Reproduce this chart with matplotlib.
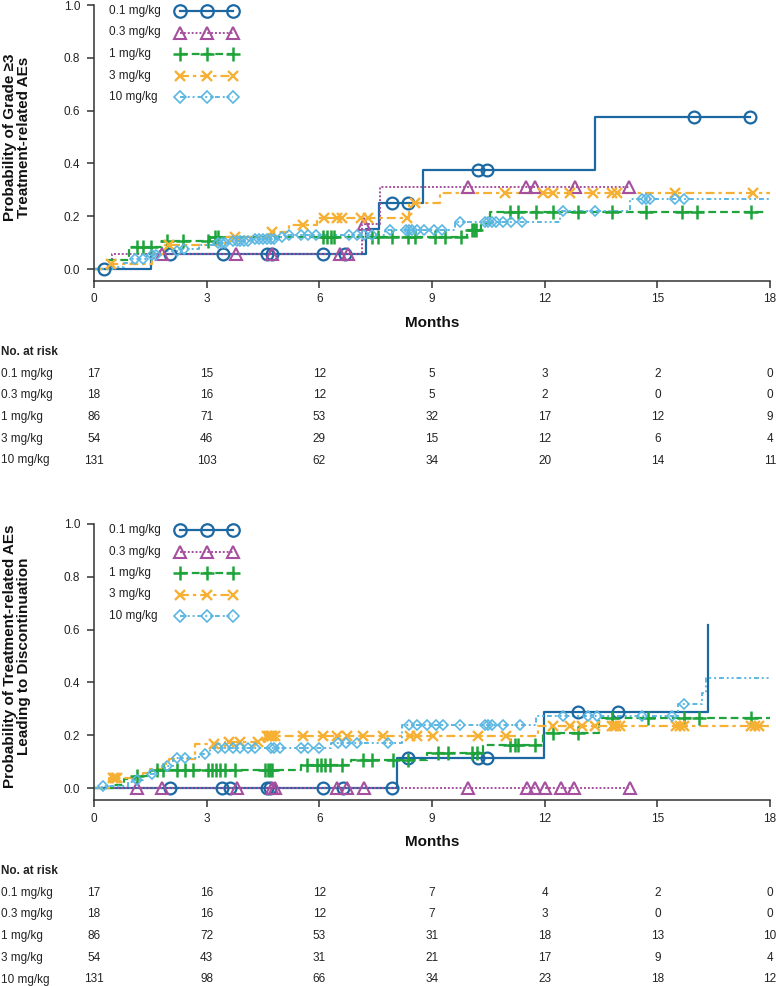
import numpy as np
import matplotlib
matplotlib.use('Agg')
import matplotlib.pyplot as plt
from matplotlib.transforms import blended_transform_factory

plt.rcParams['font.family'] = ['Liberation Sans', 'DejaVu Sans']

W, H = 776, 986

doses = ['0.1 mg/kg', '0.3 mg/kg', '1 mg/kg', '3 mg/kg', '10 mg/kg']
months = [0, 3, 6, 9, 12, 15, 18]

# --- Grade >=3 treatment-related AEs (event times, cumulative prob, censor times) ---
g3_t_01 = [1.52, 7.24, 7.6, 8.76, 13.34]
g3_p_01 = [0.059, 0.15, 0.25, 0.375, 0.576]
g3_c_01 = [0.27, 2.02, 3.43, 4.6, 4.73, 6.1, 6.68, 7.93, 8.35, 10.23, 10.46, 15.97, 17.47]

g3_t_03 = [0.48, 7.14, 7.62]
g3_p_03 = [0.056, 0.17, 0.31]
g3_c_03 = [1.8, 3.78, 4.74, 6.55, 6.76, 7.2, 9.96, 11.5, 11.74, 12.8, 14.24]

g3_t_1 = [0.4, 0.93, 1.8, 3.1, 9.93, 10.3, 10.55]
g3_p_1 = [0.035, 0.083, 0.106, 0.122, 0.148, 0.17, 0.215]
g3_c_1 = [1.14, 1.3, 1.52, 1.95, 2.37, 3.04, 3.22, 3.3, 6.1, 6.2, 6.3, 6.38, 7.4, 7.56,
          7.93, 8.35, 8.55, 9.08, 9.35, 9.77, 10.06, 10.12, 10.18, 11.07, 11.3, 11.77,
          12.22, 12.9, 13.8, 14.7, 15.65, 16.05, 17.5]

g3_t_3 = [0.4, 1.55, 1.9, 3.5, 4.65, 5.2, 5.95, 8.4, 9.2]
g3_p_3 = [0.019, 0.056, 0.093, 0.12, 0.139, 0.166, 0.194, 0.25, 0.29]
g3_c_3 = [0.45, 2.0, 3.75, 4.73, 5.57, 6.13, 6.48, 6.6, 7.1, 7.3, 8.33, 8.55, 10.94,
          11.96, 12.22, 12.67, 13.29, 13.8, 13.92, 15.47, 17.55]

g3_t_10 = [0.5, 0.8, 1.0, 1.4, 1.7, 2.3, 2.8, 3.2, 3.6, 4.2, 4.9, 5.1, 7.75, 9.6, 12.4, 14.27]
g3_p_10 = [0.008, 0.023, 0.038, 0.053, 0.069, 0.076, 0.092, 0.1, 0.108, 0.115, 0.123,
           0.131, 0.148, 0.178, 0.22, 0.265]
g3_c_10 = [1.1, 1.3, 1.55, 1.65, 2.2, 2.4, 3.3, 3.4, 3.5, 3.7, 3.8, 3.9, 4.0, 4.1, 4.3,
           4.4, 4.5, 4.6, 4.7, 4.8, 5.0, 5.2, 5.5, 5.7, 5.9, 6.8, 7.0, 7.2, 7.4, 7.88,
           8.3, 8.4, 8.46, 8.6, 8.8, 9.05, 9.27, 9.75, 10.4, 10.5, 10.6, 10.7, 10.9,
           11.1, 11.4, 12.5, 13.34, 14.6, 14.7, 14.8, 15.47, 15.7]

g3_end = [17.47, 14.24, 17.9, 18.0, 18.0]

# --- Treatment-related AEs leading to discontinuation ---
dc_t_01 = [8.06, 11.98, 16.35]
dc_p_01 = [0.113, 0.29, 0.617]
dc_c_01 = [2.02, 3.4, 3.62, 4.6, 4.69, 6.1, 6.63, 7.93, 8.36, 10.23, 10.46, 12.89, 13.95]

dc_t_03 = []
dc_p_03 = []
dc_c_03 = [1.14, 1.8, 3.8, 4.74, 4.82, 6.47, 6.73, 7.2, 9.96, 11.52, 11.74, 12.0,
           12.43, 12.78, 14.27]

dc_t_1 = [0.5, 0.8, 1.1, 1.5, 5.5, 6.85, 8.87, 10.36, 11.96, 13.45]
dc_p_1 = [0.012, 0.035, 0.047, 0.068, 0.087, 0.106, 0.133, 0.165, 0.208, 0.265]
dc_c_1 = [1.14, 1.68, 1.84, 2.2, 2.42, 2.64, 3.04, 3.15, 3.25, 3.35, 3.48, 3.75, 4.55,
          4.62, 4.68, 4.74, 5.67, 5.93, 6.05, 6.15, 6.28, 6.6, 7.17, 7.4, 7.97, 8.36,
          9.17, 9.43, 10.06, 10.2, 11.08, 11.2, 11.3, 11.74, 12.22, 12.89, 13.8, 14.75,
          15.7, 16.1, 17.5]

dc_t_3 = [0.4, 1.3, 1.5, 1.8, 2.0, 2.7, 3.5, 4.55, 11.82]
dc_p_3 = [0.037, 0.056, 0.074, 0.093, 0.111, 0.167, 0.176, 0.197, 0.235]
dc_c_3 = [0.5, 0.55, 0.6, 3.2, 3.6, 3.9, 4.36, 4.6, 4.65, 4.7, 4.75, 4.82, 5.57, 6.1,
          6.47, 6.73, 7.17, 7.7, 8.41, 8.6, 9.03, 10.23, 10.97, 12.22, 12.67, 13.0,
          13.34, 13.8, 13.85, 13.9, 14.0, 15.5, 15.6, 15.7, 17.5, 17.6, 17.7]

dc_t_10 = [0.2, 0.9, 1.1, 1.3, 1.5, 1.7, 1.9, 2.1, 2.8, 3.1, 6.3, 8.2, 11.76, 15.55,
           16.2, 16.3]
dc_p_10 = [0.008, 0.023, 0.031, 0.046, 0.054, 0.069, 0.084, 0.115, 0.13, 0.15, 0.17,
           0.24, 0.272, 0.318, 0.36, 0.417]
dc_c_10 = [0.24, 1.14, 1.55, 1.95, 2.2, 2.42, 2.96, 3.3, 3.5, 3.7, 3.9, 4.1, 4.3, 4.7,
           4.8, 4.95, 5.5, 5.7, 6.0, 6.5, 6.7, 7.0, 7.83, 8.4, 8.6, 8.86, 9.1, 9.3,
           9.75, 10.4, 10.5, 10.6, 10.9, 11.35, 12.5, 13.15, 13.4, 14.6, 15.4, 15.7]

dc_end = [16.35, 14.27, 18.0, 18.0, 18.0]

# --- Numbers at risk ---
g3_risk_01 = [17, 15, 12, 5, 3, 2, 0]
g3_risk_03 = [18, 16, 12, 5, 2, 0, 0]
g3_risk_1 = [86, 71, 53, 32, 17, 12, 9]
g3_risk_3 = [54, 46, 29, 15, 12, 6, 4]
g3_risk_10 = [131, 103, 62, 34, 20, 14, 11]

dc_risk_01 = [17, 16, 12, 7, 4, 2, 0]
dc_risk_03 = [18, 16, 12, 7, 3, 0, 0]
dc_risk_1 = [86, 72, 53, 31, 18, 13, 10]
dc_risk_3 = [54, 43, 31, 21, 17, 9, 4]
dc_risk_10 = [131, 98, 66, 34, 23, 18, 12]

# styles
colors = ['#1c68a3', '#a64f9e', '#1ea43b', '#f6b134', '#5bb7e2']
lstyles = ['-', (0, (1, 1)), (0, (3.5, 1.8)), (0, (4, 1.8, 1.5, 1.8)),
           (0, (2.5, 1.5, 1, 1.5, 1, 1.5))]
lwidths = [1.6, 1.4, 1.6, 1.6, 1.4]
markers = ['o', '^', '+', 'x', 'D']
msizes = [8.5, 8.5, 9.5, 7, 5.5]
mews = [1.6, 1.5, 1.8, 1.7, 1.2]

TXT = '#222222'


def draw_panel(ax, times, probs, cens, ends, risk, ylabel, top_px):
    for i in range(5):
        t = np.array(times[i], dtype=float)
        p = np.array(probs[i], dtype=float)
        x = np.r_[0.0, t, ends[i]]
        y = np.r_[0.0, p, p[-1] if len(p) else 0.0]
        ax.plot(x, y, drawstyle='steps-post', color=colors[i], ls=lstyles[i],
                lw=lwidths[i], zorder=2 + i * 0.1)
        # censor marks sit on the step curve
        c = np.array(cens[i], dtype=float)
        cy = np.r_[0.0, p][np.searchsorted(t, c, side='right')]
        ax.plot(c, cy, ls='none', marker=markers[i], ms=msizes[i], mew=mews[i],
                mec=colors[i], mfc='none', color=colors[i], zorder=3 + i * 0.1,
                clip_on=False)

    ax.set_xlim(0, 18)
    ax.set_ylim(-0.045, 1.0)
    ax.set_xticks(months)
    ax.set_yticks([0, 0.2, 0.4, 0.6, 0.8, 1.0])
    ax.set_yticklabels(['0.0', '0.2', '0.4', '0.6', '0.8', '1.0'])
    for s in ['top', 'right']:
        ax.spines[s].set_visible(False)
    for s in ['left', 'bottom']:
        ax.spines[s].set_color('#333333')
        ax.spines[s].set_linewidth(1.1)
    ax.tick_params(axis='both', direction='out', length=5, width=1.1,
                   color='#333333', labelsize=8.5, labelcolor=TXT)
    ax.tick_params(axis='x', pad=4)
    ax.tick_params(axis='y', pad=5)

    # legend drawn by hand: labels left aligned, handles to the right
    for i in range(5):
        ya = 1.0 - (6 + 21.5 * i) / 276.0
        ax.text((109 - 94) / 676, ya, doses[i], transform=ax.transAxes,
                ha='left', va='center', fontsize=8.5, color=TXT)
        hx = (np.array([180, 207, 233]) - 94) / 676
        ax.plot(hx, [ya] * 3, transform=ax.transAxes, color=colors[i],
                ls=lstyles[i], lw=lwidths[i], marker=markers[i], ms=msizes[i] + 0.5,
                mew=mews[i], mfc='none', mec=colors[i], clip_on=False)

    fig = ax.figure
    fig.text(17 / W, 1 - (top_px + 132) / H, ylabel, rotation=90, ha='center',
             va='center', fontsize=11, fontweight='bold', color='#111111',
             linespacing=1.05)
    fig.text(432 / W, 1 - (top_px + 318) / H, 'Months', ha='center', va='center',
             fontsize=11, fontweight='bold', color='#111111')

    trans = blended_transform_factory(ax.transData, fig.transFigure)
    ny = top_px + 347
    fig.text(1 / W, 1 - ny / H, 'No. at risk', ha='left', va='center',
             fontsize=8.5, fontweight='bold', color=TXT)
    for i in range(5):
        ry = 1 - (ny + 21.7 * (i + 1)) / H
        fig.text(1 / W, ry, doses[i], ha='left', va='center', fontsize=8.5, color=TXT)
        for m, n in zip(months, risk[i]):
            ax.text(m, ry, str(n), transform=trans, ha='center', va='center',
                    fontsize=8.5, color=TXT, clip_on=False)


fig = plt.figure(figsize=(W / 100, H / 100), dpi=100)

ax1 = fig.add_axes([94 / W, (H - 281) / H, 676 / W, 276 / H])
draw_panel(ax1,
           [g3_t_01, g3_t_03, g3_t_1, g3_t_3, g3_t_10],
           [g3_p_01, g3_p_03, g3_p_1, g3_p_3, g3_p_10],
           [g3_c_01, g3_c_03, g3_c_1, g3_c_3, g3_c_10],
           g3_end,
           [g3_risk_01, g3_risk_03, g3_risk_1, g3_risk_3, g3_risk_10],
           'Probability of Grade \u22653\nTreatment-related AEs', 5)

ax2 = fig.add_axes([94 / W, (H - 800) / H, 676 / W, 276 / H])
draw_panel(ax2,
           [dc_t_01, dc_t_03, dc_t_1, dc_t_3, dc_t_10],
           [dc_p_01, dc_p_03, dc_p_1, dc_p_3, dc_p_10],
           [dc_c_01, dc_c_03, dc_c_1, dc_c_3, dc_c_10],
           dc_end,
           [dc_risk_01, dc_risk_03, dc_risk_1, dc_risk_3, dc_risk_10],
           'Probability of Treatment-related AEs\nLeading to Discontinuation', 524)

fig.savefig('out.png', dpi=100)
